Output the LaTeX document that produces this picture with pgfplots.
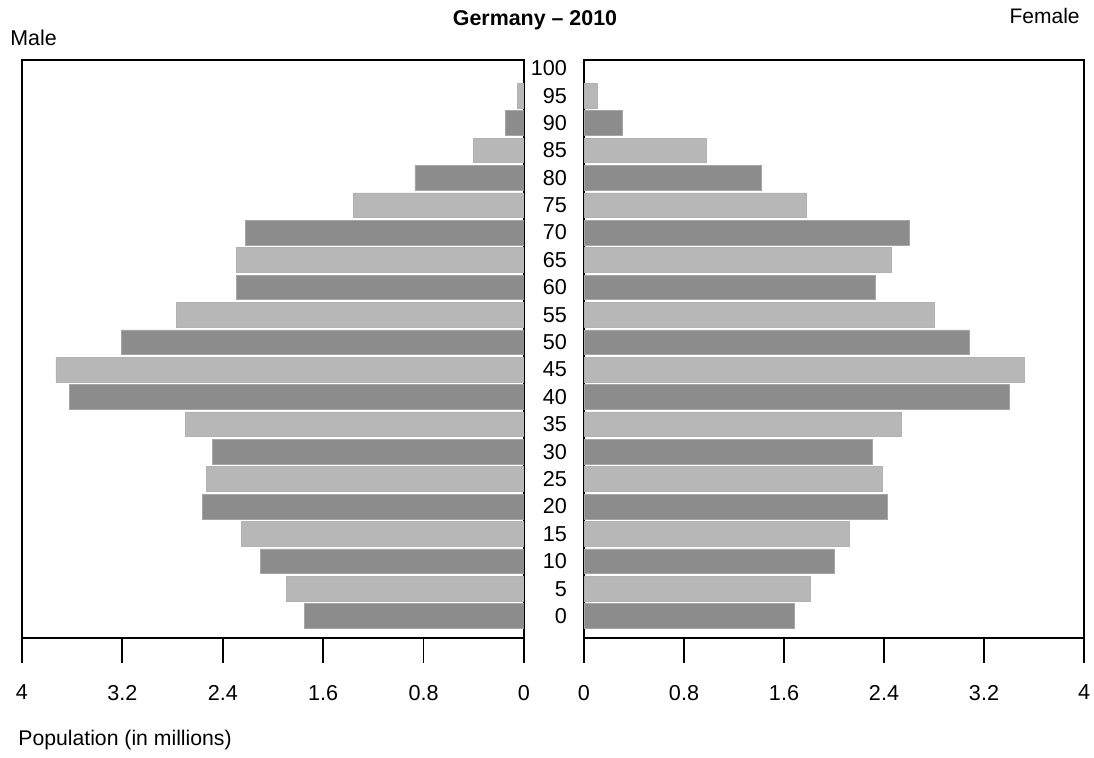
\documentclass[border=0pt]{standalone}
\usepackage{pgfplots}
\pgfplotsset{compat=1.18}
\usepackage{fontspec}
\setmainfont{Liberation Sans}
\definecolor{darkbar}{HTML}{8C8C8C}
\definecolor{lightbar}{HTML}{B7B7B7}
\begin{document}
\begin{tikzpicture}[x=1pt,y=1pt]
\pgfplotsset{pyr/.style={
  scale only axis, width=251pt, height=289pt,
  xmin=0, xmax=4, ymin=-4, ymax=101.5,
  xbar, bar width=4.5, bar shift=0pt,
  axis line style={line width=0.9pt},
  xtick={0,0.8,1.6,2.4,3.2,4}, xticklabels={0,0.8,1.6,2.4,3.2,4},
  xtick pos=bottom, tick align=outside, major tick length=12.5pt,
  every tick/.style={black, line width=0.9pt},
  /pgf/number format/assume math mode=true,
  tick label style={font=\fontsize{10.8}{12}\selectfont},
  xticklabel style={yshift=-7.5pt},
}}
\begin{axis}[pyr, at={(11pt,60pt)}, anchor=south west, x dir=reverse, ytick=\empty]
\addplot[fill=darkbar, draw=black!35, line width=0.3pt] coordinates {
(1.75,0) (2.10,10) (2.56,20) (2.48,30) (3.62,40) (3.21,50) (2.29,60) (2.22,70) (0.87,80) (0.15,90)};
\addplot[fill=lightbar, draw=black!30, line width=0.3pt] coordinates {
(1.89,5) (2.25,15) (2.53,25) (2.70,35) (3.73,45) (2.77,55) (2.29,65) (1.36,75) (0.40,85) (0.05,95)};
\end{axis}
\begin{axis}[pyr, at={(292pt,60pt)}, anchor=south west, width=250pt,
  ytick={0,5,...,100}, yticklabel pos=left, ytick style={draw=none},
  yticklabel style={anchor=east, xshift=7.5pt}]
\addplot[fill=darkbar, draw=black!35, line width=0.3pt] coordinates {
(1.68,0) (2.00,10) (2.43,20) (2.31,30) (3.40,40) (3.08,50) (2.33,60) (2.60,70) (1.42,80) (0.31,90)};
\addplot[fill=lightbar, draw=black!30, line width=0.3pt] coordinates {
(1.81,5) (2.12,15) (2.39,25) (2.54,35) (3.52,45) (2.80,55) (2.46,65) (1.78,75) (0.98,85) (0.11,95)};
\end{axis}
\node[font=\bfseries\fontsize{10.7}{12}\selectfont] at (267.5,369) {Germany – 2010};
\node[anchor=west, font=\fontsize{10.7}{12}\selectfont, inner sep=0pt] at (5,360) {Male};
\node[anchor=east, font=\fontsize{10.5}{12}\selectfont, inner sep=0pt] at (540,371) {Female};
\node[anchor=west, font=\fontsize{10.6}{12}\selectfont, inner sep=0pt] at (9,9) {Population (in millions)};
\pgfresetboundingbox
\path[use as bounding box] (0,0) rectangle (547,379);
\end{tikzpicture}
\end{document}
